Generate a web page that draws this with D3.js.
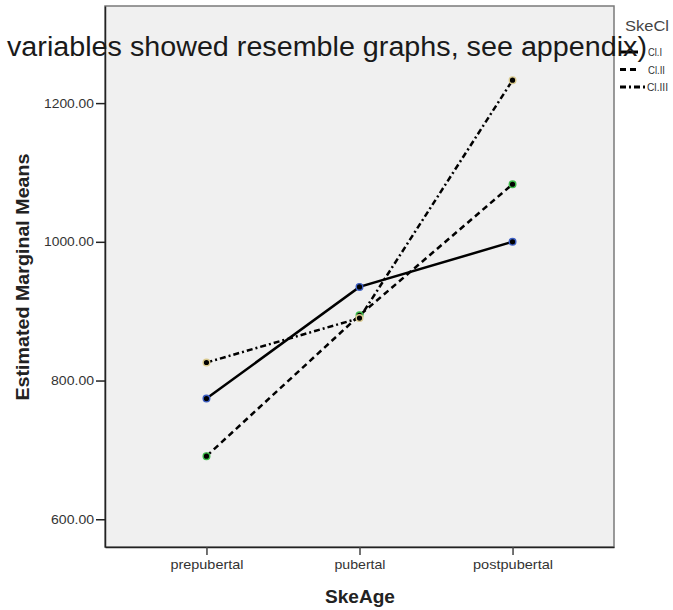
<!DOCTYPE html>
<html>
<head>
<meta charset="utf-8">
<script src="https://cdn.jsdelivr.net/npm/d3@7"></script>
<style>
  body { margin: 0; background: #fff; }
  text { font-family: Arial, "Liberation Sans", sans-serif; }
</style>
</head>
<body>
<script>
const width = 673;
const height = 610;

// data
const ageGroups = ["prepubertal", "pubertal", "postpubertal"];
const clNames = ["Cl.I", "Cl.II", "Cl.III"];
const clI = [774, 935, 1000];
const clII = [691, 894, 1083];
const clIII = [826, 890, 1233];
const yTicks = [600, 800, 1000, 1200];

const frame = { left: 105, right: 614, top: 6, bottom: 547 };

const svg = d3
  .select("body")
  .append("svg")
  .attr("width", width)
  .attr("height", height);

const x = d3
  .scalePoint()
  .domain(ageGroups)
  .range([frame.left, frame.right])
  .padding(0.663);

const y = d3
  .scaleLinear()
  .domain([560, 1340])
  .range([frame.bottom, frame.top]);

// plot background
svg
  .append("rect")
  .attr("x", frame.left)
  .attr("y", frame.top)
  .attr("width", frame.right - frame.left)
  .attr("height", frame.bottom - frame.top)
  .attr("fill", "#f0f0f0")
  .attr("stroke", "#7a7a7a")
  .attr("stroke-width", 1.5);

// left axis
const yAxis = svg
  .append("g")
  .attr("transform", `translate(${frame.left},0)`)
  .call(d3.axisLeft(y).tickValues(yTicks).tickFormat(d3.format(".2f")).tickSize(9).tickSizeOuter(0));
yAxis.select(".domain").attr("stroke", "#222").attr("stroke-width", 1.5);
yAxis.selectAll(".tick line").attr("stroke", "#222").attr("stroke-width", 1.5);
yAxis.selectAll(".tick text")
  .attr("font-size", 13)
  .attr("fill", "#333")
  .attr("x", -11)
  .attr("textLength", (d) => (d >= 1000 ? 50 : 43))
  .attr("lengthAdjust", "spacingAndGlyphs");

// bottom axis
const xAxis = svg
  .append("g")
  .attr("transform", `translate(0,${frame.bottom})`)
  .call(d3.axisBottom(x).tickSize(8).tickSizeOuter(0));
xAxis.select(".domain").attr("stroke", "#222").attr("stroke-width", 1.5);
xAxis.selectAll(".tick line").attr("stroke", "#444").attr("stroke-width", 1.5);
xAxis.selectAll(".tick text")
  .attr("font-size", 13)
  .attr("fill", "#333")
  .attr("y", 13)
  .attr("textLength", (d, i) => [73, 51, 80][i])
  .attr("lengthAdjust", "spacingAndGlyphs");

// axis titles
svg
  .append("text")
  .attr("transform", `translate(29,277) rotate(-90)`)
  .attr("text-anchor", "middle")
  .attr("font-size", 18)
  .attr("font-weight", "bold")
  .attr("fill", "#222")
  .attr("textLength", 247)
  .attr("lengthAdjust", "spacingAndGlyphs")
  .text("Estimated Marginal Means");

svg
  .append("text")
  .attr("x", 360)
  .attr("y", 603)
  .attr("text-anchor", "middle")
  .attr("font-size", 18)
  .attr("font-weight", "bold")
  .attr("fill", "#222")
  .attr("textLength", 70)
  .attr("lengthAdjust", "spacingAndGlyphs")
  .text("SkeAge");

// series
const series = [
  { name: clNames[0], values: clI, dash: null, marker: "#3d5fc4" },
  { name: clNames[1], values: clII, dash: "6,4", marker: "#3dbb4a" },
  { name: clNames[2], values: clIII, dash: "6,3,2,3", marker: "#d9c98e" },
];

const line = d3
  .line()
  .x((d, i) => x(ageGroups[i]))
  .y((d) => y(d));

series.forEach((s) => {
  svg
    .append("path")
    .datum(s.values)
    .attr("d", line)
    .attr("fill", "none")
    .attr("stroke", "#000")
    .attr("stroke-width", 2.5)
    .attr("stroke-dasharray", s.dash);
});

series.forEach((s) => {
  svg
    .selectAll(null)
    .data(s.values)
    .enter()
    .append("circle")
    .attr("cx", (d, i) => x(ageGroups[i]))
    .attr("cy", (d) => y(d))
    .attr("r", 3.3)
    .attr("fill", "#000")
    .attr("stroke", s.marker)
    .attr("stroke-width", 1.4);
});

// legend
svg
  .append("text")
  .attr("x", 625)
  .attr("y", 31)
  .attr("font-size", 15)
  .attr("fill", "#444")
  .attr("textLength", 44)
  .attr("lengthAdjust", "spacingAndGlyphs")
  .text("SkeCl");

const legend = svg
  .selectAll(".legend")
  .data(series)
  .enter()
  .append("g")
  .attr("class", "legend")
  .attr("transform", (d, i) => `translate(0,${52 + i * 17.5})`);

legend
  .append("line")
  .attr("x1", 620)
  .attr("x2", (d, i) => (i === 2 ? 646 : 638))
  .attr("stroke", "#000")
  .attr("stroke-width", 3)
  .attr("stroke-dasharray", (d) => d.dash);

legend
  .append("text")
  .attr("x", (d, i) => (i === 2 ? 647 : 648))
  .attr("y", 4)
  .attr("font-size", 11)
  .attr("fill", "#333")
  .attr("textLength", (d, i) => [14, 17, 21][i])
  .attr("lengthAdjust", "spacingAndGlyphs")
  .text((d) => d.name);

// overlaid caption text
svg
  .append("text")
  .attr("x", 7)
  .attr("y", 56)
  .attr("font-family", "'Open Sans', sans-serif")
  .attr("font-size", 27)
  .attr("fill", "#1a1a1a")
  .attr("textLength", 640)
  .attr("lengthAdjust", "spacingAndGlyphs")
  .text("variables showed resemble graphs, see appendix)");
</script>
</body>
</html>
